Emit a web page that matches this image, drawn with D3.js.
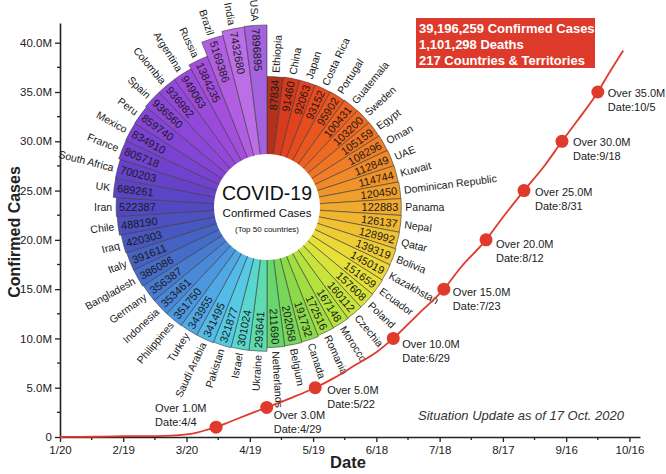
<!DOCTYPE html>
<html><head><meta charset="utf-8">
<script src="https://cdn.jsdelivr.net/npm/d3@7"></script>
<style>body{margin:0;background:#fff}svg{font-family:"Liberation Sans",Arial,sans-serif}</style>
</head><body><svg id="c" width="666" height="474"></svg>
<script>
// ---------- data ----------
const countries = ["Ethiopia","China","Japan","Costa Rica","Portugal","Guatemala","Sweden","Egypt","Oman","UAE","Kuwait","Dominican Republic","Panama","Nepal","Qatar","Bolivia","Kazakhstan","Ecuador","Poland","Czechia","Morocco","Romania","Canada","Belgium","Netherlands","Ukraine","Israel","Pakistan","Saudi Arabia","Turkey","Philippines","Indonesia","Germany","Bangladesh","Italy","Iraq","Chile","Iran","UK","South Africa","France","Mexico","Peru","Spain","Colombia","Argentina","Russia","Brazil","India","USA"];
const cases = [87834,91460,92063,93152,95902,100431,103200,105159,108296,112849,114744,120450,122883,126137,128992,139319,145019,151659,157608,160112,167148,172516,191732,202058,211690,293641,301024,321877,341495,343955,351750,353461,356387,386086,391611,420303,488190,522387,689261,700203,805718,834910,859740,936560,936982,949063,1384235,5169386,7432680,7896895];
const barColors = ["#b3301d","#d93a1d","#e3421e","#e84b1e","#ea561f","#ec6020","#ee6a22","#ef7424","#f07e26","#f08928","#f0942a","#f09f2c","#f0aa2e","#f0b630","#f0c232","#eecd34","#ecd836","#e6e038","#d8e43a","#c8e43c","#b6e23e","#a2de42","#8cda4a","#78d658","#68d66c","#5edcb0","#58d6d0","#56cae4","#54bae8","#50a8e6","#4c98e0","#4a88d8","#487ad0","#466cca","#4662c4","#4858c0","#4e50c0","#5448c2","#5c44c6","#6642ca","#7042ce","#7a42d2","#8444d6","#8c46d8","#9448da","#9c4adc","#a44ede","#b25ee2","#bc6ee6","#a462de"];

const lineDates = ["2020-01-20","2020-01-30","2020-02-09","2020-02-19","2020-02-29","2020-03-10","2020-03-15","2020-03-20","2020-03-25","2020-03-30","2020-04-03","2020-04-09","2020-04-19","2020-04-27","2020-05-09","2020-05-20","2020-05-29","2020-06-08","2020-06-18","2020-06-26","2020-07-08","2020-07-20","2020-07-28","2020-08-09","2020-08-17","2020-08-27","2020-09-06","2020-09-14","2020-09-21","2020-10-01","2020-10-06","2020-10-13"];
const lineValues = [0.0006,0.008,0.04,0.075,0.086,0.12,0.17,0.27,0.45,0.75,1.0,1.5,2.35,3.0,4.0,5.0,6.0,7.3,8.6,10.0,12.5,15.0,17.2,20.0,22.3,25.0,27.6,30.0,32.0,35.0,36.8,39.2];

const milestoneValues = [1,3,5,10,15,20,25,30,35];
const milestonePlotDates = ["2020-04-03","2020-04-27","2020-05-20","2020-06-26","2020-07-20","2020-08-09","2020-08-27","2020-09-14","2020-10-01"];
const milestoneDateLabels = ["4/4","4/29","5/22","6/29","7/23","8/12","8/31","9/18","10/5"];

const yTickValues = [0,5,10,15,20,25,30,35,40];
const xTickLabels = ["1/20","2/19","3/20","4/19","5/19","6/18","7/18","8/17","9/16","10/16"];
const xTickDates = ["2020-01-20","2020-02-19","2020-03-20","2020-04-19","2020-05-19","2020-06-18","2020-07-18","2020-08-17","2020-09-16","2020-10-16"];

const summaryLines = ["39,196,259 Confirmed Cases","1,101,298 Deaths","217 Countries & Territories"];
const centerTitle = "COVID-19", centerSub = "Confirmed Cases", centerNote = "(Top 50 countries)";
const situationText = "Situation Update as of 17 Oct. 2020";

// ---------- layout ----------
const svg = d3.select("#c");
const parse = d3.timeParse("%Y-%m-%d");
const x = d3.scaleTime().domain([parse("2020-01-20"), parse("2020-10-21")]).range([60, 640]);
const y = d3.scaleLinear().domain([0, 42]).range([437, 23]);
const ink = "#222";

// x axis
const xAxis = svg.append("g").attr("transform", "translate(0,437)");
xAxis.call(d3.axisBottom(x).tickValues(xTickDates.map(parse)).tickFormat((d,i)=>xTickLabels[i]).tickSize(5).tickPadding(4).tickSizeOuter(0));
const minorX = xTickDates.map(parse).map(d => d3.timeDay.offset(d, 15)).filter(d => d < x.domain()[1]);
xAxis.selectAll(".minor").data(minorX).enter().append("line").attr("class","minor")
  .attr("x1", d=>x(d)).attr("x2", d=>x(d)).attr("y1",0).attr("y2",3);
// y axis
const yAxis = svg.append("g").attr("transform", "translate(60,0)");
yAxis.call(d3.axisLeft(y).tickValues(yTickValues).tickFormat(d => d===0 ? "0" : d.toFixed(1)+"M").tickSize(5).tickPadding(3).tickSizeOuter(0));
yAxis.selectAll(".minor").data(yTickValues.slice(0,-1).map(v=>v+2.5)).enter().append("line").attr("class","minor")
  .attr("x1",0).attr("x2",-3).attr("y1",d=>y(d)).attr("y2",d=>y(d));
[xAxis, yAxis].forEach(g => {
  g.selectAll("path.domain").attr("stroke", ink).attr("stroke-width", 1.6);
  g.selectAll("line").attr("stroke", ink).attr("stroke-width", 1.3);
  g.selectAll("text").attr("fill", ink).style("font-size", "11.5px").style("font-family", '"Liberation Sans",Arial,sans-serif');
});

svg.append("text").attr("transform","translate(14,232) rotate(-90)").attr("text-anchor","middle")
  .attr("dominant-baseline","central").style("font-size","16px").style("font-weight","bold").attr("fill",ink).text("Confirmed Cases");
svg.append("text").attr("x",348).attr("y",468).attr("text-anchor","middle")
  .style("font-size","16.5px").style("font-weight","bold").attr("fill",ink).text("Date");

// ---------- polar bar chart ----------
const cx = 267, cy = 207;
const pg = svg.append("g").attr("transform", `translate(${cx},${cy})`);
const r = d3.scaleLog().domain([1, 7896895]).range([0, 182]);
const n = countries.length, step = 2*Math.PI/n;
const arc = d3.arc().innerRadius(40).outerRadius(d=>r(d.v)).startAngle(d=>d.i*step).endAngle(d=>(d.i+1)*step);
const bars = countries.map((c,i)=>({c, v:cases[i], i, col:barColors[i]}));
pg.selectAll("path.bar").data(bars).enter().append("path").attr("class","bar")
  .attr("d", arc).attr("fill", d=>d.col).attr("stroke","#3a3a3a").attr("stroke-width",0.6);

function placeText(sel, radiusFn, leftAnchor, rightAnchor){
  sel.attr("transform", d => {
    const a = (d.i+0.5)*360/n;
    const t = `rotate(${a-90}) translate(${radiusFn(d)},0)`;
    return a > 180 ? t + " rotate(180)" : t;
  }).attr("text-anchor", d => ((d.i+0.5)*360/n > 180) ? leftAnchor : rightAnchor)
    .attr("dominant-baseline","central");
}
placeText(pg.selectAll("text.val").data(bars).enter().append("text").attr("class","val")
  .style("font-size","11px").attr("fill","#1a1a1a").text(d=>d.v), d=>r(d.v)-3, "start", "end");
placeText(pg.selectAll("text.lab").data(bars).enter().append("text").attr("class","lab")
  .style("font-size","10.5px").attr("fill","#1a1a1a").text(d=>d.c), d=>r(d.v)+4, "end", "start");

pg.append("circle").attr("r",53).attr("fill","#fff");
pg.append("text").attr("y",-7).attr("text-anchor","middle").style("font-size","19.5px").attr("fill","#111").text(centerTitle);
pg.append("text").attr("y",10).attr("text-anchor","middle").style("font-size","11.5px").attr("fill","#111").text(centerSub);
pg.append("text").attr("y",25).attr("text-anchor","middle").style("font-size","8px").attr("fill","#111").text(centerNote);

// ---------- line ----------
const red = "#df3a2c";
const line = d3.line().x(d=>x(d.d)).y(d=>y(d.v)).curve(d3.curveMonotoneX);
const lineData = lineDates.map((d,i)=>({d:parse(d), v:lineValues[i]}));
svg.append("path").datum(lineData).attr("d", line).attr("fill","none").attr("stroke",red).attr("stroke-width",1.8);

const ms = milestoneValues.map((v,i)=>({v, d:parse(milestonePlotDates[i]), lab:milestoneDateLabels[i], i}));
svg.selectAll("circle.ms").data(ms).enter().append("circle").attr("class","ms")
  .attr("cx",d=>x(d.d)).attr("cy",d=>y(d.v)).attr("r",6.5).attr("fill",red);
const labOffsets = [[-61,-19],[7,8],[12,2],[9,6],[9,3],[10,4],[11,1],[11,1],[10,1]];
const mg = svg.selectAll("g.msl").data(ms).enter().append("g").attr("class","msl")
  .attr("transform", d => `translate(${x(d.d)+labOffsets[d.i][0]},${y(d.v)+labOffsets[d.i][1]})`);
mg.append("text").attr("dominant-baseline","central").style("font-size","11px").attr("fill",ink)
  .text(d=>`Over ${d.v.toFixed(1)}M`);
mg.append("text").attr("y",14).attr("dominant-baseline","central").style("font-size","11px").attr("fill",ink)
  .text(d=>`Date:${d.lab}`);

// ---------- summary box ----------
svg.append("rect").attr("x",416).attr("y",18).attr("width",179).attr("height",50).attr("fill","#dd3a2b");
svg.selectAll("text.sum").data(summaryLines).enter().append("text").attr("class","sum")
  .attr("x",419).attr("y",(d,i)=>32.5+i*16).style("font-size","13px").style("font-weight","bold").attr("fill","#fff").text(d=>d);

svg.append("text").attr("x",418).attr("y",420).style("font-size","13px").style("font-style","italic").attr("fill","#333").text(situationText);
</script></body></html>
